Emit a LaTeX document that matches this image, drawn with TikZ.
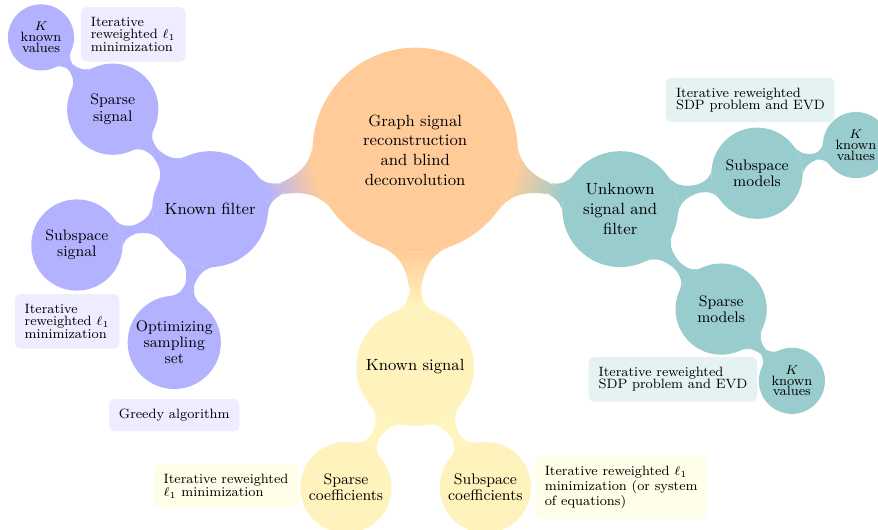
\documentclass[tikz,border=0pt]{standalone}
\usepackage{amsmath}
\usepackage{amssymb}
\usepackage{xcolor}
\usetikzlibrary{mindmap,backgrounds}

\colorlet{rootcol}{orange!40}
\colorlet{filtcol}{blue!30}
\colorlet{unkcol}{teal!40}
\colorlet{sigcol}{yellow!70!orange!25}

\tikzset{
  rootc/.style={concept, concept color=rootcol, fill=rootcol, draw=none, text=black, align=center,
    minimum size=4cm, text width=3.3cm, inner sep=1pt, font=\small},
  lone/.style={concept, draw=none, text=black, align=center,
    minimum size=2.26cm, text width=1.9cm, inner sep=1pt, font=\small},
  ltwo/.style={concept, draw=none, text=black, align=center,
    minimum size=1.78cm, text width=1.5cm, inner sep=1pt, font=\fontsize{8.5}{9}\selectfont},
  lthree/.style={concept, draw=none, text=black, align=center,
    minimum size=1.29cm, text width=1cm, inner sep=1pt, font=\fontsize{7.5}{6}\selectfont},
  remark/.style={rectangle, rounded corners=3pt, minimum size=0pt, text width=, inner xsep=5.5pt, inner ysep=5.5pt,
    align=left, text=black, font=\fontsize{7.5}{7}\selectfont}
}

\begin{document}
\begin{tikzpicture}[mindmap]
\useasboundingbox (-8.1,2.93) rectangle (9.03,-7.4);

% centre
\node[rootc] (root) at (0,0) {Graph signal\\reconstruction\\and blind\\deconvolution};

% known filter
\node[lone, concept color=filtcol, fill=filtcol] (kf) at (-4,-1.15) {Known filter};
\node[ltwo, concept color=filtcol, fill=filtcol] (ss) at (-5.9,0.8) {Sparse\\signal};
\node[lthree, concept color=filtcol, fill=filtcol] (kvone) at (-7.3,2.2) {$K$\\known\\values};
\node[ltwo, concept color=filtcol, fill=filtcol] (subs) at (-6.6,-1.85) {Subspace\\signal};
\node[ltwo, concept color=filtcol, fill=filtcol] (oss) at (-4.7,-3.75) {Optimizing\\sampling\\set};

\node[remark, fill=blue!7] (aone) at (-5.5,2.26) {Iterative\\reweighted $\ell_1$\\minimization};
\node[remark, fill=blue!7] (atwo) at (-6.79,-3.34) {Iterative\\reweighted $\ell_1$\\minimization};
\node[remark, fill=blue!7] (athree) at (-4.7,-5.17) {Greedy algorithm};

% unknown signal and filter
\node[lone, concept color=unkcol, fill=unkcol] (usf) at (4,-1.15) {Unknown\\signal and\\filter};
\node[ltwo, concept color=unkcol, fill=unkcol] (sm) at (6.67,-0.45) {Subspace\\models};
\node[lthree, concept color=unkcol, fill=unkcol] (kvtwo) at (8.6,0.1) {$K$\\known\\values};
\node[ltwo, concept color=unkcol, fill=unkcol] (spm) at (5.97,-3.1) {Sparse\\models};
\node[lthree, concept color=unkcol, fill=unkcol] (kvthree) at (7.35,-4.5) {$K$\\known\\values};

\node[remark, fill=teal!10] (afour) at (6.54,0.98) {Iterative reweighted\\SDP problem and EVD};
\node[remark, fill=teal!10] (afive) at (5.03,-4.47) {Iterative reweighted\\SDP problem and EVD};

% known signal
\node[lone, concept color=sigcol, fill=sigcol, text width=2.2cm] (ks) at (0,-4.23) {Known signal};
\node[ltwo, concept color=sigcol, fill=sigcol] (sc) at (-1.35,-6.58) {Sparse\\coefficients};
\node[ltwo, concept color=sigcol, fill=sigcol] (subc) at (1.37,-6.58) {Subspace\\coefficients};

\node[remark, fill=yellow!9] (asix) at (-3.69,-6.56) {Iterative reweighted\\$\ell_1$ minimization};
\node[remark, fill=yellow!9] (aseven) at (4.02,-6.58) {Iterative reweighted $\ell_1$\\minimization (or system\\of equations)};

\begin{pgfonlayer}{background}
\foreach \a/\b/\ca/\cb in {root/kf/rootcol/filtcol, root/usf/rootcol/unkcol, root/ks/rootcol/sigcol,
    kf/ss/filtcol/filtcol, ss/kvone/filtcol/filtcol, kf/subs/filtcol/filtcol, kf/oss/filtcol/filtcol,
    usf/sm/unkcol/unkcol, sm/kvtwo/unkcol/unkcol, usf/spm/unkcol/unkcol, spm/kvthree/unkcol/unkcol,
    ks/sc/sigcol/sigcol, ks/subc/sigcol/sigcol}
  \path (\a) to[circle connection bar switch color=from (\ca) to (\cb)] (\b);
\end{pgfonlayer}
\end{tikzpicture}
\end{document}
